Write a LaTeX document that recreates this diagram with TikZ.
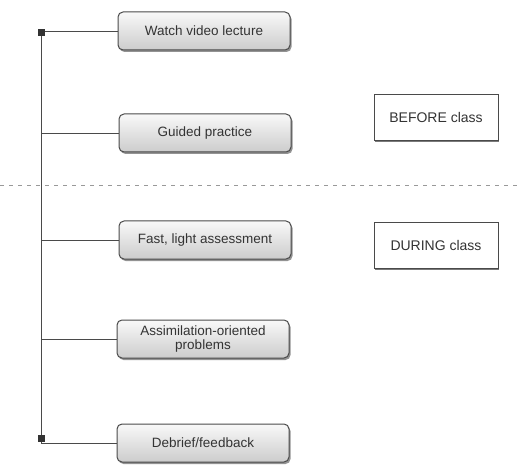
\documentclass[tikz,border=0pt]{standalone}
\usepackage{fontspec}
\setmainfont{Liberation Sans}
\usetikzlibrary{shadows}
\definecolor{txt}{HTML}{333333}
\definecolor{edge}{HTML}{4A4A4A}
\tikzset{
  stepbox/.style={draw=edge, line width=1pt, rounded corners=5pt,
    top color=gray!5, bottom color=gray!40,
    drop shadow={shadow xshift=1.5pt, shadow yshift=-2pt, fill=black!60, opacity=0.7},
    minimum width=172pt, minimum height=38pt, align=center,
    font=\fontsize{13.5}{14}\selectfont, text=txt, inner sep=2pt},
  phasebox/.style={draw=edge, line width=0.8pt, fill=white,
    drop shadow={shadow xshift=1.2pt, shadow yshift=-1.8pt, fill=black!65, opacity=0.8},
    minimum width=124pt, minimum height=46pt,
    font=\fontsize{14}{16}\selectfont, text=txt},
  link/.style={draw=edge, line width=0.8pt},
  marker/.style={fill=black!80, minimum size=7pt, inner sep=0pt}
}
\begin{document}
\begin{tikzpicture}[x=1pt,y=-1pt]
\useasboundingbox (0,0) rectangle (522,465);
\fill[white] (0,0) rectangle (522,465);
\node[stepbox] (b1) at (204,31) {Watch video lecture};
\node[stepbox] (b2) at (205,133) {Guided practice};
\node[stepbox] (b3) at (205,240) {Fast, light assessment};
\node[stepbox] (b4) at (203,339) {Assimilation-oriented\\problems};
\node[stepbox] (b5) at (203,443) {Debrief/feedback};
\node[phasebox] (before) at (436,117) {BEFORE class};
\node[phasebox] (during) at (436,245) {DURING class};
\coordinate (top) at (41,33);
\coordinate (bot) at (41,438);
\draw[dashed, dash pattern=on 4pt off 5pt, draw=gray!80, line width=0.8pt] (0,185) -- (522,185);
\draw[link] (top) -- (bot);
\draw[link] (top) |- (b1.west);
\foreach \b in {b2,b3,b4} { \draw[link] (b1.west -| top) |- (\b.west); }
\draw[link] (bot) |- (b5.west);
\node[marker] (m1) at (top) {};
\node[marker] (m2) at (bot) {};
\end{tikzpicture}
\end{document}
